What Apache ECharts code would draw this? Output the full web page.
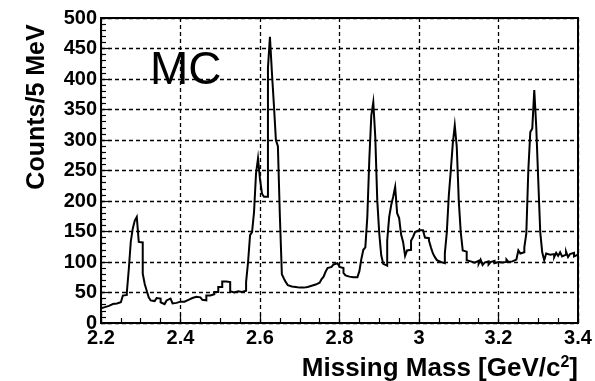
<!DOCTYPE html>
<html>
<head>
<meta charset="utf-8">
<script src="https://cdn.jsdelivr.net/npm/echarts@6/dist/echarts.min.js"></script>
<style>
  html, body { margin: 0; padding: 0; background: #fff; }
  #chart { width: 595px; height: 381px; }
</style>
</head>
<body>
<div id="chart"></div>
<script>
// Missing-mass spectrum (MC), 5 MeV bins from 2.2 to 3.4 GeV/c^2
const binLow = 2.2;
const binWidth = 0.005;
const counts = [
  24, 26, 27, 28, 29, 31, 31, 32, 33, 34,
  35, 45, 46, 50, 89, 134, 155, 168, 174, 133,
  132, 81, 64, 53, 42, 37, 36, 36, 41, 40,
  34, 31, 32, 37, 40, 40, 32, 33, 32, 35,
  35, 35, 38, 38, 38, 41, 42, 43, 43, 42,
  42, 38, 37, 45, 45, 47, 47, 51, 51, 59,
  59, 68, 68, 67, 67, 52, 50, 51, 52, 52,
  51, 52, 53, 67, 100, 144, 149, 182, 245, 270,
  236, 212, 207, 207, 418, 469, 410, 357, 300, 290,
  175, 80, 73, 67, 62, 60, 60, 59, 58, 58,
  57, 58, 59, 59, 60, 61, 62, 63, 64, 66,
  68, 72, 76, 84, 90, 92, 93, 96, 98, 97,
  92, 90, 82, 78, 76, 75, 75, 74, 75, 78,
  85, 105, 120, 124, 174, 268, 340, 362, 305, 201,
  147, 111, 97, 94, 135, 174, 193, 207, 223, 180,
  172, 145, 133, 110, 119, 120, 135, 141, 149, 152,
  153, 152, 149, 140, 139, 135, 124, 114, 108, 103,
  100, 100, 98, 114, 149, 209, 250, 294, 324, 289,
  201, 149, 119, 117, 103, 101, 100, 99, 100, 102,
  97, 104, 95, 99, 101, 96, 100, 102, 98, 100,
  103, 99, 101, 100, 104, 100, 101, 100, 104, 106,
  119, 114, 116, 124, 147, 250, 313, 319, 382, 321,
  234, 149, 116, 103, 114, 112, 110, 113, 108, 115,
  110, 116, 109, 112, 117, 108, 113, 115, 109, 112
];
const xTickLabels = ['2.2', '2.4', '2.6', '2.8', '3', '3.2', '3.4'];
const yTickLabels = ['0', '50', '100', '150', '200', '250', '300', '350', '400', '450', '500'];

// Staircase outline: each bin contributes its lower and upper edge at its count.
const histData = [];
counts.forEach((c, i) => {
  histData.push([binLow + i * binWidth, c]);
  histData.push([binLow + (i + 1) * binWidth, c]);
});

const FONT = 'Liberation Sans, Arial, Helvetica, sans-serif';
const chart = echarts.init(document.getElementById('chart'), null, { renderer: 'canvas' });

chart.setOption({
  animation: false,
  backgroundColor: '#fff',
  grid: {
    left: 101, right: 17, top: 18, bottom: 58,
    show: true, borderColor: '#000', borderWidth: 2,
    backgroundColor: 'transparent', containLabel: false
  },
  xAxis: {
    type: 'value',
    min: 2.2, max: 3.4, interval: 0.2,
    axisLine: { show: true, onZero: false, lineStyle: { color: '#000', width: 2 } },
    axisTick: { show: true, inside: true, length: 9, lineStyle: { color: '#000', width: 1.2 } },
    minorTick: { show: true, splitNumber: 4, length: 5, lineStyle: { color: '#000', width: 1.2 } },
    axisLabel: {
      color: '#000', fontFamily: FONT, fontWeight: 'bold', fontSize: 20, margin: 5,
      showMinLabel: true, showMaxLabel: true,
      formatter: v => xTickLabels[Math.round((v - 2.2) / 0.2)]
    },
    splitLine: { show: true, lineStyle: { color: '#000', width: 1.3, type: [4, 3] } }
  },
  yAxis: {
    type: 'value',
    min: 0, max: 500, interval: 50,
    axisLine: { show: true, lineStyle: { color: '#000', width: 2 } },
    axisTick: { show: true, inside: true, length: 9, lineStyle: { color: '#000', width: 1.2 } },
    minorTick: { show: true, splitNumber: 5, length: 5, lineStyle: { color: '#000', width: 1.2 } },
    axisLabel: {
      color: '#000', fontFamily: FONT, fontWeight: 'bold', fontSize: 20, margin: 4,
      showMinLabel: true, showMaxLabel: true,
      formatter: v => yTickLabels[Math.round(v / 50)]
    },
    splitLine: { show: true, lineStyle: { color: '#000', width: 1.3, type: [4, 3] } }
  },
  graphic: [
    {
      type: 'text', left: 150, top: 48,
      style: { text: 'MC', font: 'normal 46px ' + FONT, fill: '#000' }
    },
    {
      type: 'text', x: 37, y: 107, rotation: Math.PI / 2,
      style: {
        text: 'Counts/5 MeV', font: 'bold 25px ' + FONT, fill: '#000',
        align: 'center', verticalAlign: 'middle'
      }
    },
    {
      type: 'text', x: 578, y: 368,
      style: {
        text: '{m|Missing Mass [GeV/c}{s|2}{m|]}',
        align: 'right', verticalAlign: 'middle',
        rich: {
          m: { font: 'bold 26px ' + FONT, fill: '#000', verticalAlign: 'bottom' },
          s: { font: 'bold 16px ' + FONT, fill: '#000', verticalAlign: 'top', padding: [0, 0, 11, 0] }
        }
      }
    }
  ],
  series: [{
    type: 'line',
    data: histData,
    symbol: 'none',
    sampling: null,
    lineStyle: { color: '#000', width: 2, join: 'miter' },
    silent: true
  }]
});
</script>
</body>
</html>
